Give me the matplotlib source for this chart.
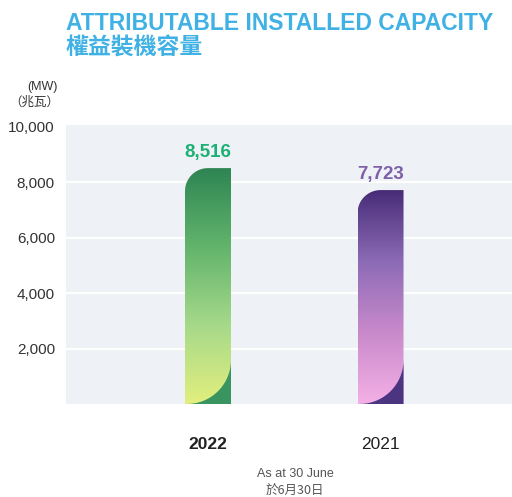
import numpy as np
import matplotlib.pyplot as plt
from matplotlib.path import Path
from matplotlib.patches import PathPatch, Polygon
from matplotlib.colors import LinearSegmentedColormap

years = ["2022", "2021"]
capacity = [8516, 7723]
value_labels = ["8,516", "7,723"]
yticks = [2000, 4000, 6000, 8000, 10000]
ytick_labels = ["2,000", "4,000", "6,000", "8,000", "10,000"]

grad_colors = [
    ["#E2EF7E", "#A6D98A", "#62B46C", "#2E8553"],
    ["#F4B0E6", "#C98ACB", "#8C6BB6", "#482C78"],
]
corner_colors = ["#3A9460", "#4B3580"]
label_colors = ["#1DB074", "#7E5FA8"]

plt.rcParams['font.family'] = ['Liberation Sans', 'Noto Sans CJK TC', 'DejaVu Sans']

fig = plt.figure(figsize=(5.12, 4.97), dpi=100)
ax = fig.add_axes([66 / 512, 93 / 497, 446 / 512, 279 / 497])
ax.set_facecolor("#EEF2F6")
for s in ax.spines.values():
    s.set_visible(False)

ymax = 10072
xlo, xhi = -0.823, 1.762
ax.set_xlim(xlo, xhi)
ax.set_ylim(0, ymax)

for v in yticks[:-1]:
    ax.axhline(v, color="white", lw=1.6, zorder=1)

# pixel -> data scale
px_x = (xhi - xlo) / 446
px_y = ymax / 279
width = 46 * px_x
r1x, r1y = 23 * px_x, 23 * px_y
r2x, r2y = 44 * px_x, 44 * px_y

for i, h in enumerate(capacity):
    x0 = i - width / 2
    x1 = i + width / 2
    t = np.linspace(np.pi / 2, np.pi, 20)
    arc = [(x0 + r1x + r1x * np.cos(a), h - r1y + r1y * np.sin(a)) for a in t]
    verts = [(x0, 0), (x1, 0), (x1, h)] + arc + [(x0, 0)]
    clip = PathPatch(Path(verts), facecolor="none", edgecolor="none")
    ax.add_patch(clip)
    cmap = LinearSegmentedColormap.from_list("g%d" % i, grad_colors[i])
    grad = np.linspace(0, 1, 256).reshape(-1, 1)
    im = ax.imshow(grad, cmap=cmap, extent=[x0, x1, 0, h], origin="lower",
                   aspect="auto", zorder=2)
    im.set_clip_path(clip)
    t2 = np.linspace(0, -np.pi / 2, 20)
    carc = [(x1 - r2x + r2x * np.cos(a), r2y + r2y * np.sin(a)) for a in t2]
    corner = Polygon([(x1, 0)] + carc, closed=True, facecolor=corner_colors[i],
                     edgecolor="none", zorder=3)
    ax.add_patch(corner)
    ax.annotate(value_labels[i], (i, h), xytext=(0, 5), textcoords="offset points",
                ha="center", va="bottom", fontsize=13.5, fontweight="bold",
                color=label_colors[i])

ax.set_yticks(yticks)
ax.set_yticklabels(ytick_labels, fontsize=11, color="#333333")
ax.set_xticks([0, 1])
ax.set_xticklabels(years, fontsize=12.5, color="#222222")
ax.get_xticklabels()[0].set_fontweight("bold")
ax.tick_params(length=0)
ax.tick_params(axis="y", pad=8)
ax.tick_params(axis="x", pad=24)

fig.text(66 / 512, 1 - 23 / 497, "ATTRIBUTABLE INSTALLED CAPACITY", fontsize=16.5,
         fontweight="bold", color="#3FB1E5", va="center", ha="left")
fig.text(66 / 512, 1 - 48 / 497, "權益裝機容量", fontsize=16.5,
         fontweight="bold", color="#3FB1E5", va="center", ha="left",
         family=["Noto Sans CJK TC", "DejaVu Sans"])
fig.text(58 / 512, 1 - 87 / 497, "(MW)", fontsize=9, color="#333333",
         ha="right", va="center")
fig.text(59 / 512, 1 - 102 / 497, "（兆瓦）", fontsize=9, color="#333333",
         ha="right", va="center", family=["Noto Sans CJK TC", "DejaVu Sans"])
fig.text(295 / 512, 1 - 474 / 497, "As at 30 June", fontsize=9, color="#555555",
         ha="center", va="center")
fig.text(295 / 512, 1 - 490 / 497, "於6月30日", fontsize=9, color="#555555",
         ha="center", va="center", family=["Noto Sans CJK TC", "DejaVu Sans"])

fig.savefig("out.png", dpi=100)
